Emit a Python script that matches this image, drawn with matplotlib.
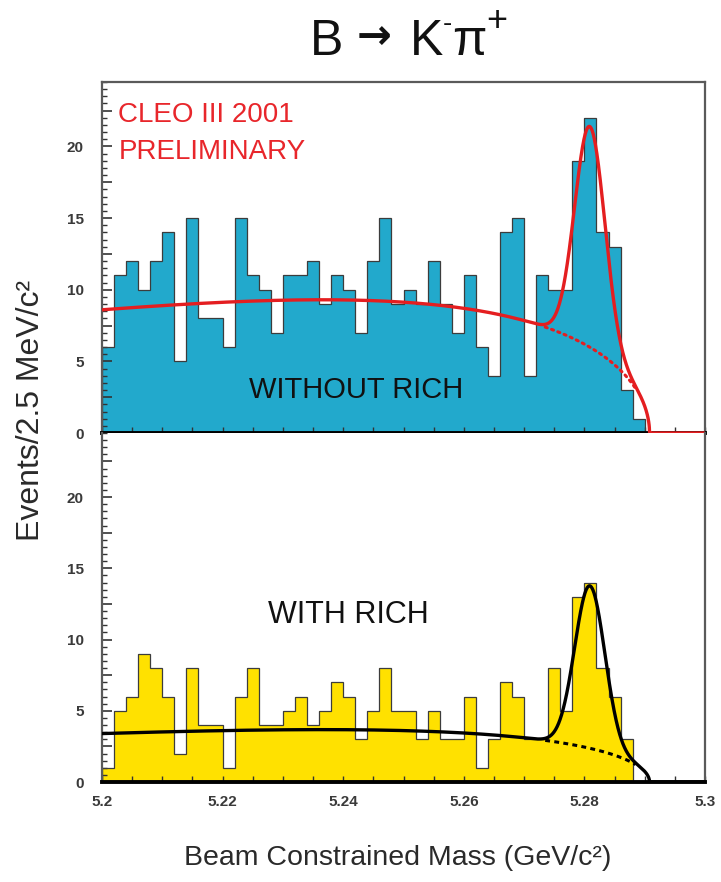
import numpy as np
import matplotlib
matplotlib.use("Agg")
import matplotlib.pyplot as plt
from matplotlib.ticker import MultipleLocator, FuncFormatter

# ---- histogram binning (GeV) ----
M_LOW = 5.2
BIN_WIDTH = 0.002
N_BINS = 45

# event counts per bin, without / with RICH particle ID
counts_without_rich = [6, 11, 12, 10, 12, 14, 5, 15, 8, 8,
                       6, 15, 11, 10, 7, 11, 11, 12, 9, 11,
                       10, 7, 12, 15, 9, 10, 9, 12, 9, 7,
                       11, 6, 4, 14, 15, 4, 11, 10, 10, 19,
                       22, 14, 13, 3, 1]
counts_with_rich = [1, 5, 6, 9, 8, 6, 2, 8, 4, 4,
                    1, 6, 8, 4, 4, 5, 6, 4, 5, 7,
                    6, 3, 5, 8, 5, 5, 3, 5, 3, 3,
                    6, 1, 3, 7, 6, 3, 3, 8, 5, 13,
                    14, 8, 6, 3, 0]

# fit parameters: ARGUS background + Gaussian signal
ARGUS_ENDPOINT = 5.2908
ARGUS_CHI = 24.0
BG_AT_LOW_EDGE = {"without": 8.6, "with": 3.4}
SIGNAL_MEAN = 5.2809
SIGNAL_SIGMA = 0.0025
SIGNAL_HEIGHT = {"without": 15.4, "with": 11.4}
DOTTED_RANGE = (5.2735, 5.2885)

x_ticks = [5.2, 5.22, 5.24, 5.26, 5.28, 5.3]

REGULAR = ["Liberation Sans", "DejaVu Sans"]


def argus_shape(m):
    m = np.asarray(m, dtype=float)
    y = 1.0 - (m / ARGUS_ENDPOINT) ** 2
    out = np.zeros_like(m)
    ok = y > 0
    out[ok] = m[ok] * np.sqrt(y[ok]) * np.exp(-ARGUS_CHI * y[ok])
    return out


def background(m, key):
    return BG_AT_LOW_EDGE[key] * argus_shape(m) / argus_shape(np.array([M_LOW]))[0]


def signal(m, key):
    return SIGNAL_HEIGHT[key] * np.exp(-0.5 * ((m - SIGNAL_MEAN) / SIGNAL_SIGMA) ** 2)


edges = M_LOW + BIN_WIDTH * np.arange(N_BINS + 1)
m_fine = np.linspace(5.2, 5.3, 3000)
m_dot = np.linspace(*DOTTED_RANGE, 200)

W, H = 721, 882
fig = plt.figure(figsize=(W / 100, H / 100), dpi=100)

left, right = 102, 705
top_ax = fig.add_axes([left / W, 1 - 433 / H, (right - left) / W, (433 - 82) / H])
bot_ax = fig.add_axes([left / W, 1 - 782 / H, (right - left) / W, (782 - 433) / H])


def style_axes(ax, show_xlabels):
    ax.set_xlim(5.2, 5.3)
    ax.set_ylim(0, 24.5)
    for s in ("left", "right", "top"):
        ax.spines[s].set_color("#5a5a5a")
        ax.spines[s].set_linewidth(1.6)
    ax.spines["bottom"].set_color("black")
    ax.spines["bottom"].set_linewidth(2.8)
    ax.yaxis.set_major_locator(MultipleLocator(2.5))
    ax.yaxis.set_minor_locator(MultipleLocator(0.5))
    ax.yaxis.set_major_formatter(FuncFormatter(
        lambda v, p: f"{v:g}" if abs(v / 5 - round(v / 5)) < 1e-6 and v < 24 else ""))
    ax.xaxis.set_major_locator(MultipleLocator(0.02))
    ax.xaxis.set_minor_locator(MultipleLocator(0.005))
    ax.xaxis.set_major_formatter(FuncFormatter(lambda v, p: f"{v:g}"))
    ax.tick_params(axis="y", which="major", direction="in", length=7, width=1.2,
                   color="#333333", pad=13, labelsize=11, labelcolor="#3a3a3a")
    ax.tick_params(axis="y", which="minor", direction="in", length=3.5, width=1.0,
                   color="#333333")
    ax.tick_params(axis="x", which="both", direction="in", length=4, width=1.0,
                   color="#333333", pad=9, labelsize=11, labelcolor="#3a3a3a",
                   labelbottom=show_xlabels)


style_axes(top_ax, False)
style_axes(bot_ax, True)
bot_ax.spines["top"].set_visible(False)
bot_ax.set_xticks(x_ticks)
for ax in (top_ax, bot_ax):
    for lab in ax.get_xticklabels() + ax.get_yticklabels():
        lab.set_family(REGULAR)
        lab.set_fontweight("bold")

panels = [
    (top_ax, counts_without_rich, "#22a9cc", "#e41e20", "without"),
    (bot_ax, counts_with_rich, "#ffe100", "black", "with"),
]
for ax, counts, fill, fitcol, key in panels:
    ax.stairs(counts, edges, fill=True, color=fill, lw=0, zorder=1)
    ax.stairs(counts, edges, color="#3c3c3c", lw=0.9, baseline=0, zorder=2)
    total = background(m_fine, key) + signal(m_fine, key)
    ax.plot(m_fine, total, color=fitcol, lw=2.4, zorder=4, solid_capstyle="round")
    ls = (0, (0.7, 1.5)) if key == "without" else (0, (1.6, 1.4))
    ax.plot(m_dot, background(m_dot, key), color=fitcol, lw=2.2, ls=ls,
            dash_capstyle="round" if key == "without" else "butt", zorder=3)

# labels inside the panels
top_ax.text(0.027, 0.906, "CLEO III 2001", transform=top_ax.transAxes,
            color="#e8262b", fontsize=20, family=REGULAR, va="center", ha="left")
top_ax.text(0.027, 0.800, "PRELIMINARY", transform=top_ax.transAxes,
            color="#e8262b", fontsize=20, family=REGULAR, va="center", ha="left")
top_ax.text(0.421, 0.1225, "WITHOUT RICH", transform=top_ax.transAxes,
            color="#111111", fontsize=21, family=REGULAR, va="center", ha="center",
            zorder=5)
bot_ax.text(0.409, 0.4785, "WITH RICH", transform=bot_ax.transAxes,
            color="#111111", fontsize=22, family=REGULAR, va="center", ha="center",
            zorder=5)

# axis titles
fig.text(31 / W, 1 - 410 / H, "Events/2.5 MeV/c\u00b2", rotation=90,
         fontsize=23, family=REGULAR, color="#2a2a2a", ha="center", va="center")
fig.text(398 / W, 1 - 858 / H, "Beam Constrained Mass (GeV/c\u00b2)",
         fontsize=20.5, family=REGULAR, color="#2a2a2a", ha="center", va="center")

# reaction title
base = 1 - 55 / H
fig.text(310 / W, base, "B", fontsize=36, family=REGULAR, color="#111111",
         ha="left", va="baseline")
fig.text(374 / W, 1 - 37 / H, "\u2192", fontsize=30, family=["DejaVu Sans"],
         fontweight="bold", color="#111111", ha="center", va="center")
fig.text(410 / W, base, "K", fontsize=36, family=REGULAR, color="#111111",
         ha="left", va="baseline")
fig.text(447 / W, 1 - 24 / H, "-", fontsize=20, family=REGULAR, color="#111111",
         ha="center", va="center")
fig.text(452 / W, base, "\u03c0", fontsize=36, family=REGULAR, color="#111111",
         ha="left", va="baseline")
fig.text(497 / W, 1 - 22 / H, "+", fontsize=26, family=REGULAR, color="#111111",
         ha="center", va="center")

fig.savefig("out.png", dpi=100, facecolor="white")
